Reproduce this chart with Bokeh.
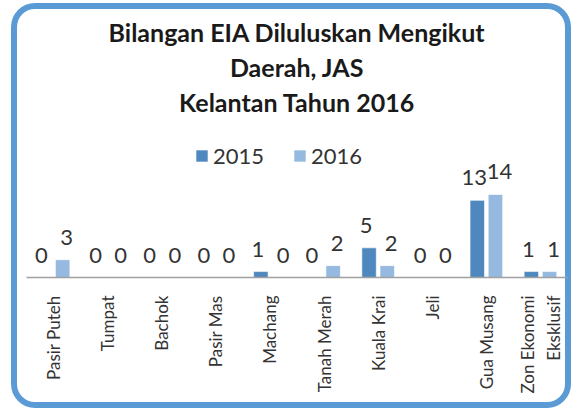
from bokeh.plotting import figure
from bokeh.models import (ColumnDataSource, FactorRange, Range1d, LabelSet, Legend,
                          LegendItem, Title)
from bokeh.core.properties import value
from bokeh.transform import dodge
from bokeh.embed import file_html
from bokeh.resources import INLINE

districts = ["Pasir Puteh", "Tumpat", "Bachok", "Pasir Mas", "Machang",
             "Tanah Merah", "Kuala Krai", "Jeli", "Gua Musang", "Zon Ekonomi\nEksklusif"]
v2015 = [0, 0, 0, 0, 1, 0, 5, 0, 13, 1]
v2016 = [3, 0, 0, 0, 0, 2, 2, 0, 14, 1]
series = ["2015", "2016"]
title_lines = ["Bilangan EIA Diluluskan Mengikut", "Daerah, JAS", "Kelantan Tahun 2016"]

C15 = "#4F88BE"
C16 = "#96B9E0"
FONT = "Lato"
TXT = "#333333"

src = ColumnDataSource(dict(d=districts, a=v2015, b=v2016,
                            la=[str(v) for v in v2015], lb=[str(v) for v in v2016]))

p = figure(x_range=FactorRange(*districts), y_range=Range1d(0, 26.8),
           width=560, height=405, output_backend="svg", toolbar_location=None,
           min_border_left=15, min_border_right=4, min_border_top=115, min_border_bottom=131)
p.styles = {"box-shadow": "inset 0px 0px 0px 6px #5B9BD5", "background": "white",
            "border-radius": "24px", "margin": "3px 0px 0px 11px"}
p.border_fill_color = None
p.background_fill_color = None

r15 = p.vbar(x=dodge("d", -0.168, range=p.x_range), top="a", width=0.267, source=src,
             fill_color=C15, line_color="white", line_width=0.6)
r16 = p.vbar(x=dodge("d", 0.168, range=p.x_range), top="b", width=0.267, source=src,
             fill_color=C16, line_color="white", line_width=0.6)

for col, lab, off, xo in (("a", "la", -0.168, -3), ("b", "lb", 0.168, 4)):
    p.add_layout(LabelSet(x=dodge("d", off, range=p.x_range), y=col, text=lab, source=src,
                          x_offset=xo, y_offset=15, text_align="center",
                          text_baseline="alphabetic",
                          text_font=value(FONT), text_font_size="22px", text_color=TXT))

legend = Legend(items=[LegendItem(label=series[0], renderers=[r15]),
                       LegendItem(label=series[1], renderers=[r16])],
                orientation="horizontal", location=(168, 108),
                label_text_font=FONT, label_text_font_size="22px", label_text_color=TXT,
                glyph_width=15, glyph_height=15, spacing=28, label_standoff=4,
                border_line_alpha=0, background_fill_alpha=0, margin=0, padding=0)
p.add_layout(legend, "center")

for line in reversed(title_lines):
    p.add_layout(Title(text=line, align="center", text_font=FONT, text_font_size="25px",
                       text_font_style="bold", text_color="#1a1a1a", standoff=3), "above")

p.yaxis.visible = False
p.xgrid.visible = False
p.ygrid.visible = False
p.outline_line_color = None
p.xaxis.axis_line_color = "#A0A0A0"
p.xaxis.axis_line_width = 1.5
p.xaxis.major_tick_line_color = None
p.xaxis.minor_tick_line_color = None
p.xaxis.major_label_orientation = 1.5708
p.xaxis.major_label_text_font = FONT
p.xaxis.major_label_text_font_size = "17px"
p.xaxis.major_label_text_color = TXT
p.xaxis.major_label_standoff = 12
p.x_range.range_padding = 0

open("out.html", "w").write(file_html(p, INLINE))
